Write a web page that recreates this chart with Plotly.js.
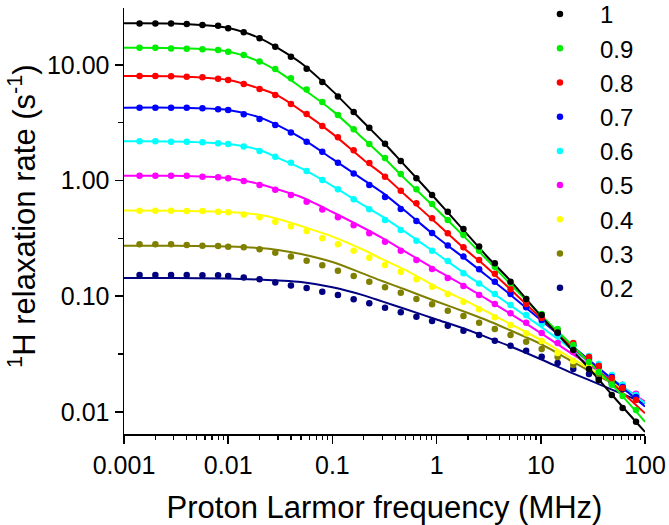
<!DOCTYPE html>
<html>
<head>
<meta charset="utf-8">
<script src="https://cdn.plot.ly/plotly-3.0.1.min.js"></script>
<style>html,body{margin:0;padding:0;background:#fff;}#chart{width:669px;height:525px;}</style>
</head>
<body>
<div id="chart"></div>
<script>
// Measured frequencies (MHz)
const freqPts = [0.00141, 0.002, 0.00283, 0.004, 0.00566, 0.008, 0.01, 0.0141, 0.02, 0.0283, 0.04, 0.0566, 0.08, 0.113, 0.16, 0.226, 0.32, 0.453, 0.64, 0.905, 1.28, 1.81, 2.56, 3.62, 5.12, 7.24, 10.2, 14.5, 20.5, 29, 36, 48, 61, 82];
// Fit curve frequencies (MHz)
const freqFit = [0.001, 0.003, 0.01, 0.02, 0.03, 0.05, 0.1, 0.2, 0.3, 0.5, 1, 2, 3, 5, 10, 20, 30, 50, 100];

const seriesNames = ["1", "0.9", "0.8", "0.7", "0.6", "0.5", "0.4", "0.3", "0.2"];

// Measured relaxation rates (s^-1)
const pts_1   = [22.9,22.9,22.9,22.6,22.2,21.8,20.8,19.2,17.0,14.4,11.8,9.29,7.13,5.34,3.92,2.87,2.08,1.48,1.047,0.751,0.538,0.381,0.269,0.193,0.1335,0.0946,0.0688,0.0485,0.0342,0.0235,0.0188,0.0140,0.0108,0.0082];
const pts_0_9 = [14.1,14.1,13.9,13.8,13.7,13.5,13.0,12.2,10.7,9.23,7.67,6.14,4.79,3.69,2.78,2.07,1.57,1.14,0.841,0.627,0.456,0.338,0.247,0.180,0.130,0.0946,0.0702,0.052,0.0378,0.027,0.0221,0.0171,0.0137,0.01037];
const pts_0_8 = [8.03,8.03,7.98,7.92,7.83,7.61,7.42,6.85,6.20,5.50,4.60,3.77,2.97,2.37,1.83,1.42,1.081,0.818,0.636,0.472,0.350,0.265,0.206,0.156,0.115,0.0856,0.0648,0.051,0.0394,0.0298,0.0249,0.0196,0.0161,0.01265];
const pts_0_7 = [4.27,4.27,4.27,4.27,4.22,4.14,4.08,3.75,3.41,3.03,2.61,2.17,1.78,1.43,1.15,0.916,0.721,0.568,0.447,0.352,0.2745,0.220,0.171,0.1335,0.1045,0.0802,0.0622,0.048,0.0378,0.0292,0.0249,0.020,0.0164,0.0134];
const pts_0_6 = [2.19,2.19,2.17,2.17,2.15,2.10,2.07,1.97,1.80,1.61,1.43,1.21,1.01,0.841,0.689,0.565,0.456,0.374,0.302,0.247,0.2016,0.158,0.129,0.1045,0.0839,0.0688,0.0575,0.0452,0.0371,0.0304,0.0259,0.0208,0.0171,0.0140];
const pts_0_5 = [1.10,1.10,1.10,1.10,1.08,1.07,1.05,0.992,0.916,0.834,0.751,0.657,0.562,0.481,0.411,0.350,0.296,0.247,0.206,0.172,0.1437,0.1225,0.1024,0.0856,0.0712,0.059,0.048,0.0394,0.0329,0.0281,0.0244,0.0204,0.0171,0.0143];
const pts_0_4 = [0.549,0.549,0.549,0.546,0.546,0.538,0.532,0.509,0.481,0.441,0.403,0.366,0.317,0.281,0.247,0.215,0.186,0.163,0.140,0.121,0.1045,0.0896,0.077,0.0657,0.0563,0.0478,0.041,0.0323,0.0275,0.0249,0.0225,0.0196,0.0167,0.0143];
const pts_0_3 = [0.281,0.281,0.281,0.277,0.273,0.272,0.268,0.265,0.2545,0.238,0.220,0.203,0.185,0.166,0.1495,0.1335,0.1194,0.1072,0.0946,0.0851,0.0749,0.0674,0.059,0.052,0.0462,0.0404,0.0349,0.0298,0.0254,0.0235,0.0212,0.0185,0.0161,0.0140];
const pts_0_2 = [0.1526,0.1526,0.1526,0.1526,0.152,0.152,0.1495,0.1451,0.140,0.1314,0.1238,0.1177,0.1094,0.1024,0.094,0.0868,0.0795,0.0726,0.0665,0.061,0.0556,0.0503,0.0462,0.0412,0.0373,0.0338,0.030,0.0264,0.0235,0.0212,0.0196,0.01775,0.01575,0.0137];

// Fitted curves (s^-1)
const fit_1   = [23.0,22.8,20.9,17.1,14.0,10.4,5.97,3.18,2.20,1.34,0.680,0.338,0.224,0.139,0.0676,0.0342,0.0230,0.0135,0.0067];
const fit_0_9 = [14.1,14.0,13.1,10.7,8.8,6.4,4.03,2.29,1.63,1.03,0.565,0.304,0.210,0.130,0.0688,0.0375,0.0262,0.0166,0.0082];
const fit_0_8 = [8.03,7.98,7.42,6.26,5.43,4.03,2.55,1.51,1.14,0.751,0.427,0.243,0.179,0.117,0.0648,0.0366,0.0262,0.0172,0.0097];
const fit_0_7 = [4.27,4.27,4.08,3.52,3.0,2.34,1.54,1.01,0.79,0.546,0.325,0.202,0.151,0.1045,0.0622,0.0371,0.0273,0.0187,0.0111];
const fit_0_6 = [2.19,2.18,2.07,1.84,1.57,1.28,0.90,0.61,0.49,0.36,0.234,0.150,0.117,0.0845,0.0545,0.0346,0.0264,0.0188,0.0119];
const fit_0_5 = [1.10,1.10,1.05,0.935,0.838,0.721,0.535,0.389,0.319,0.243,0.168,0.118,0.0947,0.0714,0.048,0.0317,0.0251,0.0184,0.0122];
const fit_0_4 = [0.551,0.549,0.535,0.506,0.466,0.405,0.328,0.251,0.209,0.169,0.120,0.0893,0.0739,0.058,0.0418,0.0288,0.0233,0.0177,0.0122];
const fit_0_3 = [0.2734,0.2727,0.269,0.261,0.251,0.232,0.1976,0.156,0.1353,0.1143,0.090,0.0716,0.0622,0.051,0.0386,0.0273,0.0223,0.0174,0.0122];
const fit_0_2 = [0.1437,0.1437,0.142,0.1393,0.1366,0.1325,0.1193,0.1016,0.0902,0.0775,0.0629,0.051,0.0443,0.0371,0.0285,0.0216,0.0186,0.0153,0.01185];

const xTickVals = [0.001, 0.01, 0.1, 1, 10, 100];
const xTickText = ["0.001", "0.01", "0.1", "1", "10", "100"];
const yTickVals = [0.01, 0.1, 1, 10];
const yTickText = ["0.01", "0.10", "1.00", "10.00"];

const colors = ["#000000", "#00ee00", "#ff0000", "#0000ff", "#00ffff", "#ff00ff", "#ffff00", "#808000", "#000080"];
const allPts = [pts_1, pts_0_9, pts_0_8, pts_0_7, pts_0_6, pts_0_5, pts_0_4, pts_0_3, pts_0_2];
const allFit = [fit_1, fit_0_9, fit_0_8, fit_0_7, fit_0_6, fit_0_5, fit_0_4, fit_0_3, fit_0_2];

const traces = [];
for (let i = allFit.length - 1; i >= 0; i--) {
  traces.push({
    x: freqFit, y: allFit[i], type: "scatter", mode: "lines",
    line: {color: colors[i], width: 2, shape: "spline", smoothing: 0.8},
    showlegend: false, hoverinfo: "skip"
  });
}
const markerTraces = [];
for (let i = 0; i < allPts.length; i++) {
  markerTraces.push({
    x: freqPts, y: allPts[i], type: "scatter", mode: "markers", name: seriesNames[i],
    marker: {color: colors[i], size: 6.5}
  });
}
const ordered = traces.concat(markerTraces.slice().reverse());

const font = "Arial, 'Liberation Sans', sans-serif";
const layout = {
  width: 669, height: 525,
  margin: {l: 124, r: 24, t: 8, b: 91, autoexpand: false},
  paper_bgcolor: "#fff", plot_bgcolor: "#fff",
  font: {family: font, color: "#000"},
  showlegend: true,
  legend: {
    xref: "paper", yref: "paper",
    x: 0.760, xanchor: "left", y: 1.0376, yanchor: "top",
    font: {family: font, size: 24, color: "#000"},
    traceorder: "reversed", bgcolor: "rgba(0,0,0,0)", borderwidth: 0,
    itemsizing: "trace", itemwidth: 70, tracegroupgap: 0, maxheight: 1
  },
  xaxis: {
    type: "log", range: [-3, 2],
    tickmode: "array", tickvals: xTickVals, ticktext: xTickText,
    ticks: "outside", ticklen: 8, tickwidth: 1.5, tickcolor: "#000",
    showline: true, linecolor: "#000", linewidth: 1.5, mirror: false,
    showgrid: false, zeroline: false,
    tickfont: {family: font, size: 25, color: "#000"},
    minor: {dtick: "D1", ticks: "outside", ticklen: 4.5, tickwidth: 1.2, tickcolor: "#000", showgrid: false},
    title: {text: "Proton Larmor frequency (MHz)", font: {family: font, size: 31, color: "#000"}, standoff: 20}
  },
  yaxis: {
    type: "log", range: [-2.192, 1.493],
    tickmode: "array", tickvals: yTickVals, ticktext: yTickText,
    ticks: "outside", ticklen: 8, tickwidth: 1.5, tickcolor: "#000",
    showline: true, linecolor: "#000", linewidth: 1.5, mirror: false,
    showgrid: false, zeroline: false,
    tickfont: {family: font, size: 25, color: "#000"},
    minor: {dtick: 0.5, tick0: 0, ticks: "outside", ticklen: 4.5, tickwidth: 1.2, tickcolor: "#000", showgrid: false},
    title: {text: ""}
  },
  annotations: [{
    text: "<sup>1</sup>H relaxation rate (s<sup>-1</sup>)",
    xref: "paper", yref: "paper", x: -0.1958, y: 0.512,
    xanchor: "center", yanchor: "middle", textangle: -90, showarrow: false,
    font: {family: font, size: 31, color: "#000"}
  }]
};

Plotly.newPlot("chart", ordered, layout, {displayModeBar: false, staticPlot: true});
</script>
</body>
</html>
